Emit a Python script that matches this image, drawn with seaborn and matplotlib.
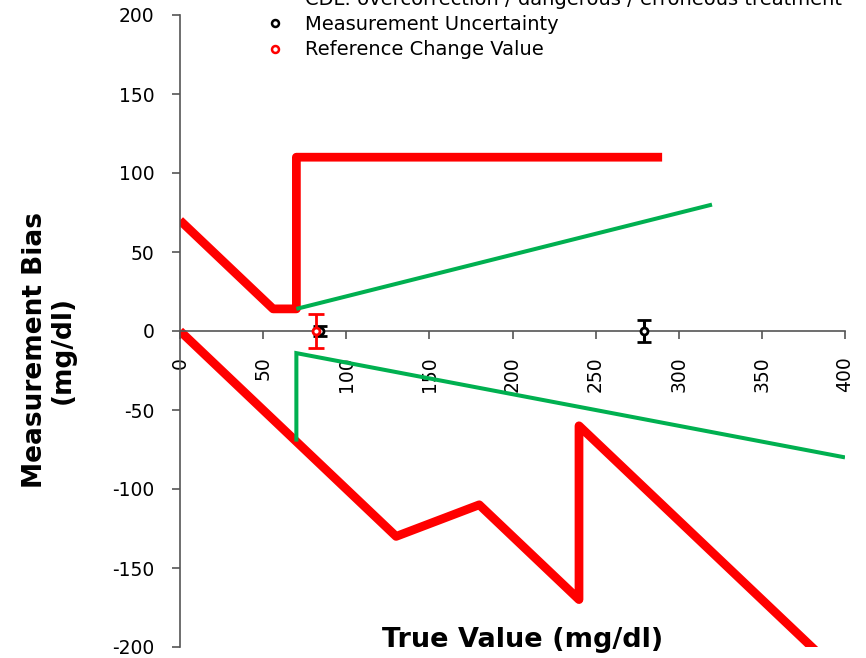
import matplotlib
matplotlib.use("Agg")
import matplotlib.pyplot as plt
from matplotlib.lines import Line2D
import seaborn as sns

# ---- data ----
red_upper_x = [0, 56, 70, 70, 290]
red_upper_y = [70, 14, 14, 110, 110]
red_lower_x = [0, 130, 180, 240, 240, 400]
red_lower_y = [0, -130, -110, -170, -60, -220]
green_upper_x = [70, 320]
green_upper_y = [14, 80]
green_lower_x = [70, 70, 400]
green_lower_y = [-70, -14, -80]
mu_x = [84, 279]
mu_y = [0, 0]
mu_err = [3, 7]
rcv_x = [82]
rcv_y = [0]
rcv_err = [11]
x_ticks = [0, 50, 100, 150, 200, 250, 300, 350, 400]
y_ticks = [-200, -150, -100, -50, 0, 50, 100, 150, 200]
legend_labels = ["CDL: overcorrection / dangerous / erroneous treatment",
                 "Measurement Uncertainty",
                 "Reference Change Value"]

sns.set_style("white")
plt.rcParams["font.family"] = ["DejaVu Sans"]
plt.rcParams["axes.unicode_minus"] = False
plt.rcParams["text.color"] = "black"
plt.rcParams["axes.labelcolor"] = "black"

RED = "#FF0000"
GREEN = "#00B050"
AXC = "#555555"

fig = plt.figure(figsize=(8.66, 6.58), dpi=100)
ax = fig.add_axes([180 / 866, 1 - 647 / 658, 665 / 866, 632 / 658])

kw_red = dict(color=RED, linewidth=6.3, sort=False, estimator=None,
              solid_joinstyle="round", solid_capstyle="butt")
kw_green = dict(color=GREEN, linewidth=2.9, sort=False, estimator=None,
                solid_joinstyle="miter", solid_capstyle="butt")
sns.lineplot(x=red_upper_x, y=red_upper_y, ax=ax, **kw_red)
sns.lineplot(x=red_lower_x, y=red_lower_y, ax=ax, **kw_red)
sns.lineplot(x=green_upper_x, y=green_upper_y, ax=ax, **kw_green)
sns.lineplot(x=green_lower_x, y=green_lower_y, ax=ax, **kw_green)

ax.errorbar(mu_x, mu_y, yerr=mu_err, fmt="o", color="black", mfc="white",
            mec="black", ms=5, mew=2, elinewidth=2.2, capsize=5, capthick=2.2,
            zorder=5)
ax.errorbar(rcv_x, rcv_y, yerr=rcv_err, fmt="o", color=RED, mfc="white",
            mec=RED, ms=5, mew=2, elinewidth=2, capsize=5.5, capthick=2,
            zorder=6)

ax.set_xlim(0, 400)
ax.set_ylim(-200, 200)

for s in ["top", "right"]:
    ax.spines[s].set_visible(False)
ax.spines["bottom"].set_position(("data", 0))
ax.spines["left"].set_position(("data", 0))
for s in ["bottom", "left"]:
    ax.spines[s].set_color(AXC)
    ax.spines[s].set_linewidth(1.2)

ax.set_xticks(x_ticks)
ax.set_yticks(y_ticks)
ax.set_xticklabels([str(v) for v in x_ticks])
ax.set_yticklabels([str(v) for v in y_ticks])
ax.tick_params(axis="both", direction="out", length=6, width=1.2,
               color=AXC, labelsize=13.5, pad=12.5, labelcolor="black")
ax.tick_params(axis="x", bottom=True, labelrotation=90)
ax.tick_params(axis="y", left=True)

fig.text(523 / 866, 1 - 640 / 658, "True Value (mg/dl)", fontsize=19.5,
         fontweight="bold", ha="center", va="center", color="black")
fig.text(49 / 866, 1 - 350 / 658, "Measurement Bias\n(mg/dl)", fontsize=19,
         fontweight="bold", ha="center", va="center", rotation=90,
         linespacing=1.05, color="black")

handles = [
    Line2D([], [], color=RED, linewidth=6.3),
    Line2D([], [], marker="o", ls="none", mfc="white", mec="black", ms=5, mew=1.8),
    Line2D([], [], marker="o", ls="none", mfc="white", mec=RED, ms=5, mew=1.8),
]
leg = fig.legend(handles, legend_labels, loc="upper left",
                 bbox_to_anchor=(248 / 866, 1 + 10 / 658),
                 frameon=False, fontsize=14, handlelength=2.75, handletextpad=0.2,
                 labelspacing=0.32, borderpad=0, borderaxespad=0)
for t in leg.get_texts():
    t.set_color("black")

fig.savefig("out.png", dpi=100)
